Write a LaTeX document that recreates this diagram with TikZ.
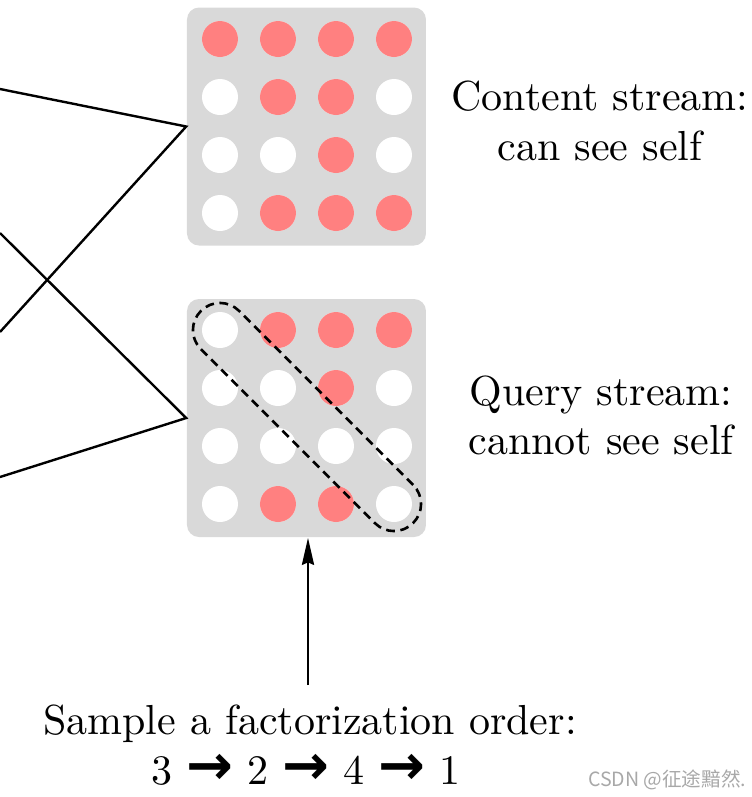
\documentclass[tikz,border=0pt]{standalone}
\usepackage{fontspec}
\newfontfamily\arrowfont{DejaVu Sans}
\newfontfamily\cjk{Noto Sans CJK SC}
\usetikzlibrary{arrows.meta}
\definecolor{panelgray}{HTML}{D9D9D9}
\definecolor{dotred}{HTML}{FF8080}
\definecolor{wmgray}{HTML}{A8A8A8}
\newcommand{\ordarrow}{{\arrowfont\bfseries\fontsize{14}{14}\selectfont →}}
\begin{document}
\begin{tikzpicture}[x=0.25pt,y=-0.25pt,
  panel/.style={fill=panelgray, rounded corners=3pt, minimum width=59.75pt,
    minimum height=59.5pt, inner sep=0pt},
  wire/.style={line width=0.6pt},
  lbl/.style={anchor=base, inner sep=0pt, font=\fontsize{10.5}{12.5}\selectfont},
  dotw/.style={fill=white},
  dotr/.style={fill=dotred},
  pillbox/.style={draw, line width=0.65pt, dash pattern=on 2.2pt off 1.4pt,
    rotate=-45, minimum width=75pt, minimum height=13.5pt,
    rounded corners=6.7pt, inner sep=0pt},
  uparrow/.style={line width=0.65pt, -{Stealth[length=6.75pt,width=3pt,inset=0.6pt]}}
]
\useasboundingbox (0,0) rectangle (752,797);

% panels
\node[panel] (tp) at (306.5,126.5) {};
\node[panel] (bp) at (306.5,418) {};

% dots
\foreach \c in {0,...,3}{
  \foreach \r in {0,...,3}{
    \fill[dotw] ({220+58*\c},{39+58*\r}) circle[radius=4.5pt];
    \fill[dotw] ({220+58*\c},{330+58*\r}) circle[radius=4.5pt];
  }
}
\foreach \c/\r in {0/0,1/0,2/0,3/0,1/1,2/1,2/2,1/3,2/3,3/3}
  \fill[dotr] ({220+58*\c},{39+58*\r}) circle[radius=4.5pt];
\foreach \c/\r in {1/0,2/0,3/0,2/1,1/3,2/3}
  \fill[dotr] ({220+58*\c},{330+58*\r}) circle[radius=4.5pt];

% dashed diagonal
\node[pillbox] (pill) at (307,417) {};

% wires from the left
\coordinate (l1) at (0,89);
\coordinate (l2) at (0,332);
\coordinate (l3) at (0,233);
\coordinate (l4) at (0,477);
\draw[wire] (l1) -- (tp.west) -- (l2);
\draw[wire] (l3) -- (bp.west) -- (l4);

% labels
\node[lbl] (c1) at (600,110) {Content stream:};
\node[lbl] (c2) at (600,160) {can see self};
\node[lbl] (q1) at (601,405) {Query stream:};
\node[lbl] (q2) at (601,454) {cannot see self};
\node[lbl] (s1) at (310,734) {Sample a factorization order:};
\node[lbl] (s2) at (306,784) {3 \ordarrow{} 2 \ordarrow{} 4 \ordarrow{} 1};

% arrow up to the query panel
\coordinate (astart) at (308,685);
\draw[uparrow] (astart) -- (astart |- bp.south);

% watermark
\node[anchor=base east, inner sep=0pt, text=wmgray, font=\cjk\fontsize{4.9}{5.5}\selectfont] (wm) at (747,786) {CSDN @征途黯然.};
\end{tikzpicture}
\end{document}
